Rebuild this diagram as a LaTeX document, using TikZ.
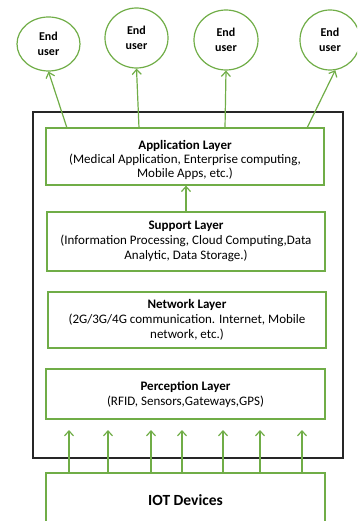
\documentclass[tikz,border=0pt]{standalone}
\usepackage{fontspec}
\setmainfont{Carlito}
\usetikzlibrary{arrows.meta,shapes.geometric}
\definecolor{gr}{RGB}{112,173,71}
\begin{document}
\begin{tikzpicture}[x=1pt,y=-1pt,
  layer/.style={draw=gr,line width=1.3pt,minimum width=278pt,align=center,
    font=\fontsize{13}{15}\selectfont,inner sep=0pt},
  enduser/.style={draw=gr,line width=1.2pt,ellipse,minimum width=63pt,minimum height=58pt,
    align=center,font=\bfseries\fontsize{12}{15.5}\selectfont,inner sep=0pt},
  arr/.style={draw=gr,line width=1.2pt,-{Straight Barb[length=5pt,width=9pt]}}]
\useasboundingbox (0,0) rectangle (357,521);
\clip (0,0) rectangle (357,521);
% outer box
\node[draw=black!85,line width=1.6pt,minimum width=310pt,minimum height=346pt,inner sep=0pt] (outer) at (188,285) {};
% layers
\node[layer,minimum height=57pt] (app) at (185,156.5) {};
\node[font=\fontsize{13}{14}\selectfont,align=center,inner sep=0pt] (apptxt) at ([yshift=-3pt]app.center) {\textbf{Application Layer}\\(Medical Application, Enterprise computing,\\Mobile Apps, etc.)};
\node[layer,minimum height=59pt] (sup) at (186,241.5) {\textbf{Support Layer}\\(Information Processing, Cloud Computing,Data\\Analytic, Data Storage.)};
\node[layer,minimum height=56pt] (net) at (187,320) {\textbf{Network Layer}\\(2G/3G/4G communication. Internet, Mobile\\network, etc.)};
\node[layer,minimum height=50pt,minimum width=279pt] (per) at (185.5,394) {\textbf{Perception Layer}\\(RFID, Sensors,Gateways,GPS)};
\node[layer,minimum height=54pt,minimum width=279pt,font=\bfseries\fontsize{15.5}{17}\selectfont] (iot) at (185.5,500) {IOT Devices};
% end users
\node[enduser,minimum height=54pt] (e1) at (48.5,44) {End\\user};
\node[enduser,minimum height=60pt] (e2) at (136.5,38) {End\\user};
\node[enduser,minimum height=60pt,minimum width=64pt] (e3) at (226,40) {End\\user};
\node[enduser,minimum height=60pt,minimum width=60pt] (e4) at (330,40) {End\\user};
% arrows app -> end users
\coordinate (a1) at (67,128);
\coordinate (a2) at (139,128);
\coordinate (a3) at (225,128);
\coordinate (a4) at (307,128);
\draw[arr] (a1) -- (e1.south);
\draw[arr] (a2) -- (e2.south);
\draw[arr] (a3) -- (e3.south);
\draw[arr] (a4) -- (e4.280);
% support -> app
\draw[arr] (sup.north -| 186,0) -- (app.south -| 186,0);
% iot -> perception
\foreach \i/\x in {1/69,2/108,3/151,4/182,5/223,6/260,7/302}{
  \coordinate (t\i) at (\x,430);
  \draw[arr] (iot.north -| t\i) -- (t\i);
}
\end{tikzpicture}
\end{document}
